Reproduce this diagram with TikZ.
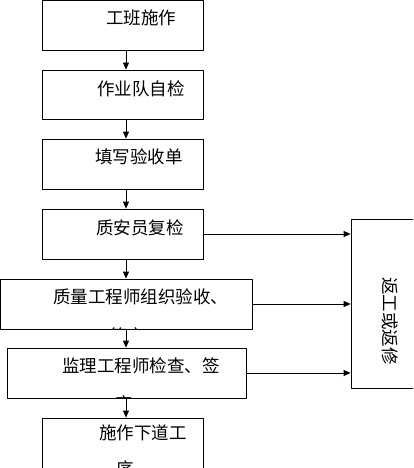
\documentclass[tikz,border=0pt]{standalone}
\usepackage{fontspec}
\newfontfamily\cjk{Noto Sans CJK SC}
\usetikzlibrary{arrows.meta}
\tikzset{
	box/.style={draw, rectangle, inner sep=0pt, minimum width=161, minimum height=50},
	txt/.style={font=\cjk\fontsize{17.5}{20}\selectfont, inner sep=0pt, anchor=west}
}
\begin{document}
\begin{tikzpicture}[line join=round, line cap=round, >={Triangle[length=7pt,width=6pt]}, line width=0.8pt, x=1pt, y=-1pt]
	\clip (0,0) rectangle (413,468);
	\coordinate (spine) at (126,0);
	% main column
	\node[box, minimum height=49.5] (bz) at (122.5,25.25) {};
	\node[box, minimum height=49] (zj) at (122.5,94.5) {};
	\node[box] (ys) at (122.5,164) {};
	\node[box] (fj) at (122.5,234) {};
	\node[box, minimum width=251.5] (zl) at (126.25,304) {};
	\node[box, minimum width=239] (jl) at (126.5,373) {};
	\node[box] (xd) at (122.5,443) {};
	% side box
	\node[box, minimum width=70, minimum height=169] (fg) at (386,303.5) {};
	
	\node[txt] at (106,18) {工班施作};
	\node[txt] at (97,89) {作业队自检};
	\node[txt] at (95,157) {填写验收单};
	\node[txt] at (96,228) {质安员复检};
	\node[txt] at (53,297) {质量工程师组织验收、};
	\node[txt] at (62,366) {监理工程师检查、签};
	\node[txt] at (99,433) {施作下道工};
	\node[txt, anchor=center, rotate=-90] at (390,321) {返工或返修};
	% cut off lines
	\begin{scope}
		\clip (zl.north west) rectangle (zl.south east);
		\node[txt] at (110,336) {签字};
	\end{scope}
	\begin{scope}
		\clip (jl.north west) rectangle (jl.south east);
		\node[txt] at (115,404) {字};
	\end{scope}
	\node[txt] at (116,469) {序};
	
	\draw[->] (bz.south -| spine) -- (zj.north -| spine);
	\draw[->] (zj.south -| spine) -- (ys.north -| spine);
	\draw[->] (ys.south -| spine) -- (fj.north -| spine);
	\draw[->] (fj.south -| spine) -- (zl.north -| spine);
	\draw[->] (zl.south -| spine) -- (jl.north -| spine);
	\draw[->] (jl.south -| spine) -- (xd.north -| spine);
	\draw[->] (fj.east) -- (fj.east -| fg.west);
	\draw[->] (zl.east) -- (zl.east -| fg.west);
	\draw[->] (jl.east) -- (jl.east -| fg.west);
\end{tikzpicture}
\end{document}
